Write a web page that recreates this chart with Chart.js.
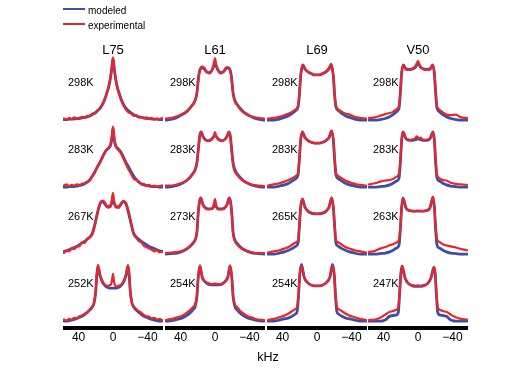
<!DOCTYPE html>
<html>
<head>
<meta charset="utf-8">
<script src="https://cdn.jsdelivr.net/npm/chart.js@4"></script>
<style>
  body { margin: 0; background: #fff; }
  #fig { position: relative; width: 507px; height: 368px; overflow: hidden; font-family: "Liberation Sans", Arial, sans-serif; color: #000; }
  #fig canvas { position: absolute; }
  .txt { position: absolute; white-space: nowrap; transform: translate(-50%, -50%); }
  .lbl { position: absolute; white-space: nowrap; transform: translateY(-50%); font-size: 11px; }
  .key { position: absolute; height: 2px; width: 22px; }
</style>
</head>
<body>
<div id="fig"></div>
<script>
// residues (columns) and temperatures (rows)
const residues = ['L75', 'L61', 'L69', 'V50'];
const temps = [
    ['298K', '283K', '267K', '252K'],
    ['298K', '283K', '273K', '254K'],
    ['298K', '283K', '265K', '254K'],
    ['298K', '283K', '263K', '247K']
];
const axisTicks = [40, 0, -40];

// ---- L75 ----
const khz_L75 = [57,54,51,48,45,42,39,36,33,30,27,24,21,18,15,12,9,7,5,3,1.5,0,-1.5,-3,-5,-7,-9,-12,-15,-18,-21,-24,-27,-30,-33,-36,-39,-42,-45,-48,-51,-54,-57];
const mod_L75_298 = [0.01,0.01,0.02,0.02,0.02,0.03,0.03,0.04,0.05,0.06,0.08,0.10,0.13,0.17,0.22,0.29,0.40,0.50,0.60,0.76,0.93,1.12,0.93,0.76,0.60,0.50,0.40,0.29,0.22,0.17,0.13,0.10,0.08,0.06,0.05,0.04,0.03,0.03,0.02,0.02,0.02,0.01,0.01];
const exp_L75_298 = [0.03,0.01,0.04,0.02,0.05,0.02,0.04,0.06,0.04,0.08,0.07,0.12,0.12,0.18,0.21,0.30,0.41,0.51,0.62,0.78,0.95,1.14,0.92,0.75,0.58,0.48,0.38,0.27,0.19,0.14,0.12,0.08,0.09,0.05,0.06,0.03,0.05,0.02,0.04,0.01,0.03,0.02,0.04];
const mod_L75_283 = [0.00,0.00,0.01,0.01,0.01,0.02,0.03,0.04,0.06,0.09,0.13,0.20,0.28,0.37,0.45,0.55,0.64,0.68,0.71,0.75,0.86,1.08,0.86,0.75,0.71,0.68,0.64,0.55,0.45,0.37,0.28,0.20,0.14,0.09,0.06,0.04,0.03,0.02,0.01,0.01,0.01,0.00,0.00];
const exp_L75_283 = [0.03,0.05,0.02,0.04,0.03,0.05,0.04,0.06,0.07,0.10,0.12,0.20,0.27,0.38,0.46,0.56,0.65,0.69,0.72,0.78,0.90,1.10,0.88,0.76,0.70,0.66,0.62,0.52,0.42,0.32,0.24,0.15,0.13,0.10,0.05,0.06,0.02,0.04,0.01,0.03,0.01,0.02,0.03];
const mod_L75_267 = [0.05,0.06,0.08,0.10,0.12,0.14,0.17,0.20,0.23,0.27,0.31,0.38,0.55,0.75,0.91,0.96,0.90,0.86,0.85,0.87,0.92,0.98,0.92,0.87,0.85,0.86,0.90,0.96,0.91,0.75,0.55,0.38,0.31,0.27,0.23,0.20,0.17,0.14,0.12,0.10,0.08,0.06,0.05];
const exp_L75_267 = [0.02,0.07,0.05,0.11,0.09,0.15,0.14,0.22,0.20,0.28,0.30,0.36,0.52,0.76,0.93,0.97,0.93,0.86,0.88,0.86,0.98,1.11,0.94,0.85,0.87,0.84,0.92,0.96,0.93,0.78,0.57,0.36,0.30,0.24,0.21,0.15,0.13,0.10,0.08,0.05,0.07,0.03,0.05];
const khz_L75_252 = [57,54,51,48,45,42,39,36,33,30,27,24,22,20,19,17.5,15,12,9,6,4,2,1,0,-1,-2,-4,-6,-9,-12,-15,-17.5,-19,-20,-22,-24,-27,-30,-33,-36,-39,-42,-45,-48,-51,-54,-57];
const mod_L75_252 = [0.00,0.00,0.01,0.02,0.03,0.05,0.07,0.09,0.12,0.16,0.20,0.26,0.33,0.55,0.80,1.00,0.82,0.70,0.64,0.61,0.60,0.60,0.60,0.60,0.60,0.60,0.60,0.61,0.64,0.70,0.82,1.00,0.80,0.55,0.33,0.26,0.20,0.16,0.12,0.09,0.07,0.05,0.03,0.02,0.01,0.00,0.00];
const exp_L75_252 = [0.03,0.01,0.04,0.03,0.06,0.05,0.09,0.10,0.13,0.15,0.21,0.26,0.34,0.56,0.80,1.02,0.84,0.72,0.66,0.64,0.65,0.68,0.76,0.86,0.74,0.66,0.63,0.64,0.66,0.72,0.84,1.02,0.80,0.56,0.33,0.27,0.22,0.18,0.15,0.11,0.09,0.08,0.05,0.06,0.03,0.04,0.02];

// ---- L61 ----
const khz_L61_298 = [57,50,44,38,33,29,26,23,21,19,17,15,13,10,7,5,3,1.5,0,-1.5,-3,-5,-7,-10,-13,-15,-17,-19,-21,-23,-26,-29,-33,-38,-44,-50,-57];
const mod_L61_298 = [0.00,0.02,0.05,0.10,0.15,0.22,0.28,0.36,0.50,0.80,0.93,0.95,0.94,0.88,0.86,0.88,0.92,0.98,1.03,0.98,0.92,0.88,0.86,0.88,0.94,0.95,0.93,0.80,0.50,0.36,0.28,0.22,0.15,0.10,0.05,0.02,0.00];
const exp_L61_298 = [0.03,0.04,0.07,0.11,0.16,0.22,0.28,0.36,0.48,0.78,0.94,0.97,0.96,0.88,0.85,0.86,0.93,1.02,1.12,1.00,0.92,0.86,0.85,0.88,0.96,0.96,0.93,0.78,0.48,0.34,0.27,0.20,0.14,0.09,0.06,0.04,0.03];
const khz_L61_283 = [57,50,44,38,33,29,26,23,21,19,17.5,16,14,11,8,5,3,1.5,0,-1.5,-3,-5,-8,-11,-14,-16,-17.5,-19,-21,-23,-26,-29,-33,-38,-44,-50,-57];
const mod_L61_283 = [0.00,0.01,0.03,0.07,0.12,0.18,0.24,0.32,0.45,0.75,0.95,1.00,0.92,0.86,0.84,0.86,0.89,0.92,0.94,0.92,0.89,0.86,0.84,0.86,0.92,1.00,0.95,0.75,0.45,0.32,0.24,0.18,0.12,0.07,0.03,0.01,0.00];
const exp_L61_283 = [0.03,0.03,0.05,0.08,0.12,0.18,0.24,0.31,0.44,0.74,0.96,1.00,0.91,0.85,0.84,0.85,0.88,0.93,1.00,0.92,0.87,0.85,0.84,0.86,0.92,1.00,0.96,0.72,0.40,0.28,0.22,0.16,0.11,0.07,0.04,0.03,0.02];
const khz_L61_273 = [57,50,44,38,33,29,26,23,21,19.5,18,16.5,14,11,8,5,3,1.5,0,-1.5,-3,-5,-8,-11,-14,-16.5,-18,-19.5,-21,-23,-26,-29,-33,-38,-44,-50,-57];
const mod_L61_273 = [0.00,0.01,0.02,0.05,0.09,0.14,0.19,0.26,0.40,0.75,0.95,1.02,0.90,0.84,0.82,0.82,0.83,0.86,0.90,0.86,0.83,0.82,0.82,0.84,0.90,1.02,0.95,0.75,0.40,0.26,0.19,0.14,0.09,0.05,0.02,0.01,0.00];
const exp_L61_273 = [0.02,0.03,0.04,0.06,0.10,0.15,0.20,0.27,0.40,0.74,0.96,1.02,0.89,0.83,0.81,0.82,0.83,0.90,1.00,0.88,0.82,0.81,0.81,0.83,0.90,1.02,0.96,0.74,0.38,0.24,0.17,0.12,0.08,0.05,0.03,0.02,0.02];
const khz_L61_254 = [57,50,44,38,33,29,26,23,21,19.5,17.5,15,12,8,4,0,-4,-8,-12,-15,-17.5,-19.5,-21,-23,-26,-29,-33,-38,-44,-50,-57];
const mod_L61_254 = [0.00,0.01,0.03,0.06,0.10,0.15,0.20,0.27,0.45,0.80,1.00,0.80,0.72,0.67,0.66,0.66,0.66,0.67,0.72,0.80,1.00,0.80,0.45,0.27,0.20,0.15,0.10,0.06,0.03,0.01,0.00];
const exp_L61_254 = [0.02,0.04,0.07,0.10,0.15,0.20,0.25,0.31,0.47,0.80,1.01,0.82,0.73,0.69,0.67,0.68,0.67,0.68,0.73,0.82,1.01,0.80,0.47,0.31,0.25,0.19,0.14,0.09,0.06,0.03,0.02];

// ---- L69 ----
const khz_L69_298 = [57,50,44,38,33,29,25,22,20.5,19,17.5,16.3,14,10,6,3,0,-3,-6,-10,-14,-16.3,-17.5,-19,-20.5,-22,-25,-29,-33,-38,-44,-50,-57];
const mod_L69_298 = [0.00,0.00,0.02,0.05,0.08,0.12,0.17,0.24,0.45,0.80,0.95,1.00,0.93,0.87,0.84,0.82,0.82,0.82,0.84,0.87,0.93,1.00,0.95,0.80,0.45,0.24,0.17,0.12,0.08,0.05,0.02,0.00,0.00];
const exp_L69_298 = [0.03,0.04,0.06,0.09,0.12,0.15,0.19,0.26,0.47,0.80,0.96,1.00,0.93,0.87,0.84,0.82,0.82,0.82,0.84,0.88,0.95,1.02,0.96,0.80,0.47,0.26,0.19,0.15,0.12,0.10,0.06,0.04,0.03];
const khz_L69_283 = [57,50,44,38,33,29,25,22,20.5,19,17,14,10,6,3,0,-3,-6,-10,-14,-17,-19,-20.5,-22,-25,-29,-33,-38,-44,-50,-57];
const mod_L69_283 = [0.00,0.00,0.02,0.04,0.07,0.11,0.15,0.22,0.50,0.85,1.00,0.90,0.84,0.81,0.80,0.80,0.80,0.81,0.84,0.90,1.02,0.85,0.50,0.22,0.15,0.11,0.07,0.04,0.02,0.00,0.00];
const exp_L69_283 = [0.03,0.05,0.07,0.10,0.13,0.16,0.20,0.26,0.52,0.86,1.00,0.90,0.84,0.81,0.80,0.80,0.80,0.81,0.84,0.90,1.02,0.86,0.52,0.26,0.20,0.16,0.12,0.09,0.06,0.04,0.03];
const khz_L69_265 = [57,50,44,38,33,29,25,22,20.5,19,17,14,10,6,3,0,-3,-6,-10,-14,-17,-19,-20.5,-22,-25,-29,-33,-38,-44,-50,-57];
const mod_L69_265 = [0.00,0.00,0.02,0.04,0.07,0.10,0.14,0.20,0.50,0.85,1.00,0.85,0.77,0.74,0.73,0.73,0.73,0.74,0.77,0.85,1.02,0.85,0.50,0.20,0.14,0.10,0.07,0.04,0.02,0.00,0.00];
const exp_L69_265 = [0.03,0.05,0.07,0.10,0.13,0.17,0.21,0.26,0.52,0.86,1.00,0.86,0.78,0.75,0.74,0.73,0.74,0.75,0.78,0.86,1.02,0.86,0.52,0.26,0.21,0.17,0.13,0.10,0.07,0.05,0.03];
const khz_L69_254 = [57,50,44,38,33,29,25,23,21.5,20,18,15,11,6,3,0,-3,-6,-11,-15,-18,-20,-21.5,-23,-25,-29,-33,-38,-44,-50,-57];
const mod_L69_254 = [0.00,0.00,0.02,0.04,0.06,0.09,0.13,0.18,0.45,0.85,1.03,0.80,0.70,0.65,0.64,0.64,0.64,0.65,0.70,0.80,1.03,0.85,0.45,0.18,0.13,0.09,0.06,0.04,0.02,0.00,0.00];
const exp_L69_254 = [0.02,0.04,0.07,0.10,0.14,0.18,0.22,0.27,0.50,0.85,1.00,0.80,0.70,0.65,0.64,0.64,0.64,0.65,0.70,0.80,1.00,0.85,0.50,0.27,0.22,0.18,0.14,0.10,0.07,0.04,0.02];

// ---- V50 ----
const khz_V50_298 = [57,50,44,38,33,29,25,22,20.5,19,17,14,10,6,3,1.5,0,-1.5,-3,-6,-10,-14,-17,-19,-20.5,-22,-25,-29,-33,-38,-44,-50,-57];
const mod_V50_298 = [0.00,0.00,0.01,0.03,0.06,0.10,0.15,0.22,0.50,0.85,1.00,0.93,0.92,0.93,0.96,1.00,1.03,1.00,0.96,0.93,0.92,0.93,1.00,0.85,0.50,0.22,0.15,0.10,0.06,0.03,0.01,0.00,0.00];
const exp_V50_298 = [0.04,0.05,0.08,0.11,0.13,0.15,0.20,0.26,0.52,0.86,1.00,0.92,0.91,0.94,0.98,1.03,1.07,1.02,0.97,0.93,0.91,0.92,1.00,0.86,0.52,0.26,0.19,0.14,0.10,0.09,0.10,0.05,0.04];
const khz_V50_283 = [57,50,44,38,33,29,25,22,20.5,19,17.5,14,10,6,3,1.5,0,-1.5,-3,-6,-10,-14,-17.5,-19,-20.5,-22,-25,-29,-33,-38,-44,-50,-57];
const mod_V50_283 = [0.00,0.00,0.01,0.02,0.04,0.07,0.11,0.17,0.45,0.85,1.00,0.88,0.85,0.85,0.86,0.87,0.88,0.87,0.86,0.85,0.85,0.88,1.00,0.85,0.45,0.17,0.11,0.07,0.04,0.02,0.01,0.00,0.00];
const exp_V50_283 = [0.05,0.07,0.10,0.12,0.13,0.15,0.19,0.25,0.50,0.86,1.00,0.88,0.86,0.87,0.89,0.92,0.90,0.88,0.90,0.86,0.86,0.88,1.00,0.86,0.50,0.24,0.16,0.13,0.12,0.08,0.06,0.05,0.04];
const khz_V50_263 = [57,50,44,38,33,29,25,22,20.5,19,17.5,14,10,6,3,1.5,0,-1.5,-3,-6,-10,-14,-17.5,-19,-20.5,-22,-25,-29,-33,-38,-44,-50,-57];
const mod_V50_263 = [0.00,0.00,0.01,0.02,0.04,0.07,0.11,0.17,0.45,0.85,1.02,0.84,0.79,0.78,0.78,0.78,0.78,0.78,0.78,0.78,0.79,0.84,1.04,0.85,0.45,0.17,0.11,0.07,0.04,0.02,0.01,0.00,0.00];
const exp_V50_263 = [0.04,0.06,0.10,0.13,0.16,0.18,0.21,0.27,0.50,0.86,1.02,0.84,0.79,0.78,0.78,0.79,0.78,0.79,0.78,0.78,0.79,0.85,1.04,0.86,0.50,0.28,0.22,0.18,0.16,0.14,0.12,0.09,0.07];
const khz_V50_247 = [57,50,44,40,37,34,30,26,23,21.5,20,18.6,15,11,6,3,0,-3,-6,-11,-15,-18.6,-20,-21.5,-23,-26,-30,-34,-37,-40,-44,-50,-57];
const mod_V50_247 = [0.00,0.00,0.00,0.01,0.03,0.08,0.10,0.11,0.15,0.45,0.85,1.00,0.78,0.68,0.64,0.63,0.63,0.63,0.64,0.68,0.78,0.98,0.85,0.45,0.15,0.11,0.10,0.08,0.03,0.01,0.00,0.00,0.00];
const exp_V50_247 = [0.02,0.03,0.06,0.10,0.13,0.16,0.18,0.20,0.25,0.50,0.86,1.00,0.78,0.68,0.65,0.64,0.65,0.64,0.65,0.68,0.78,0.98,0.86,0.50,0.25,0.20,0.18,0.16,0.13,0.10,0.07,0.04,0.03];

// panels in grid order [column][row]
const spectra = [
    [[khz_L75, mod_L75_298, exp_L75_298], [khz_L75, mod_L75_283, exp_L75_283], [khz_L75, mod_L75_267, exp_L75_267], [khz_L75_252, mod_L75_252, exp_L75_252]],
    [[khz_L61_298, mod_L61_298, exp_L61_298], [khz_L61_283, mod_L61_283, exp_L61_283], [khz_L61_273, mod_L61_273, exp_L61_273], [khz_L61_254, mod_L61_254, exp_L61_254]],
    [[khz_L69_298, mod_L69_298, exp_L69_298], [khz_L69_283, mod_L69_283, exp_L69_283], [khz_L69_265, mod_L69_265, exp_L69_265], [khz_L69_254, mod_L69_254, exp_L69_254]],
    [[khz_V50_298, mod_V50_298, exp_V50_298], [khz_V50_283, mod_V50_283, exp_V50_283], [khz_V50_263, mod_V50_263, exp_V50_263], [khz_V50_247, mod_V50_247, exp_V50_247]]
];

const BLUE = '#3d4ea6';
const RED = '#e8262b';
const colCenter = [113, 215, 317, 418];
const rowBase = [120, 187, 254, 321];
const PANEL_W = 100, PANEL_H = 70;
const X_HALF = 58.1;
const Y_MIN = -0.07, Y_MAX = 1.2;

const fig = document.getElementById('fig');

function addCanvas(left, top, w, h) {
    const c = document.createElement('canvas');
    c.width = w;
    c.height = h;
    c.style.left = left + 'px';
    c.style.top = top + 'px';
    fig.appendChild(c);
    return c;
}

function addText(cls, text, left, top, size) {
    const d = document.createElement('div');
    d.className = cls;
    d.textContent = text;
    d.style.left = left + 'px';
    d.style.top = top + 'px';
    if (size) d.style.fontSize = size + 'px';
    fig.appendChild(d);
}

function toPoints(xs, ys) {
    return xs.map((x, i) => ({ x: x, y: ys[i] }));
}

const xScale = { type: 'linear', min: -X_HALF, max: X_HALF, reverse: true, display: false };

function drawPanel(col, row) {
    const [xs, mod, exp] = spectra[col][row];
    const top = rowBase[row] + 4 - PANEL_H;
    const canvas = addCanvas(colCenter[col] - PANEL_W / 2, top, PANEL_W, PANEL_H);
    new Chart(canvas, {
        type: 'line',
        data: {
            datasets: [{
                label: 'experimental',
                data: toPoints(xs, exp),
                borderColor: RED,
                borderWidth: 2.2,
                order: 0
            }, {
                label: 'modeled',
                data: toPoints(xs, mod),
                borderColor: BLUE,
                borderWidth: 2.8,
                order: 1
            }]
        },
        options: {
            responsive: false,
            animation: false,
            events: [],
            layout: { padding: 0 },
            elements: {
                point: { radius: 0 },
                line: { cubicInterpolationMode: 'monotone', borderCapStyle: 'round', borderJoinStyle: 'round' }
            },
            plugins: { legend: { display: false }, tooltip: { enabled: false } },
            scales: {
                x: xScale,
                y: { min: Y_MIN, max: Y_MAX, display: false }
            }
        }
    });
    addText('lbl', temps[col][row], colCenter[col] - 45, rowBase[row] - 38);
}

function drawAxis(col) {
    const canvas = addCanvas(colCenter[col] - PANEL_W / 2, 310, PANEL_W, 35);
    new Chart(canvas, {
        type: 'line',
        data: { datasets: [] },
        options: {
            responsive: false,
            animation: false,
            events: [],
            layout: { padding: 0 },
            plugins: { legend: { display: false }, tooltip: { enabled: false } },
            scales: {
                x: {
                    type: 'linear',
                    min: -X_HALF,
                    max: X_HALF,
                    reverse: true,
                    border: { display: true, width: 4, color: '#000' },
                    grid: { display: false, drawTicks: false },
                    afterBuildTicks: scale => {
                        scale.ticks = axisTicks.map(v => ({ value: v }));
                    },
                    ticks: {
                        color: '#000',
                        padding: 3,
                        maxRotation: 0,
                        font: { family: '"Liberation Sans", Arial, sans-serif', size: 12 },
                        callback: v => v < 0 ? '\u2212' + Math.abs(v) : String(v)
                    }
                },
                y: { display: false }
            }
        }
    });
}

for (let c = 0; c < 4; c++) {
    for (let r = 0; r < 4; r++) drawPanel(c, r);
    drawAxis(c);
    addText('txt', residues[c], colCenter[c], 49, 13);
}

addText('txt', 'kHz', 268, 357, 12.5);

// legend
const keys = [['modeled', BLUE, 9], ['experimental', RED, 24]];
keys.forEach(([name, color, y]) => {
    const k = document.createElement('div');
    k.className = 'key';
    k.style.background = color;
    k.style.left = '63px';
    k.style.top = (y - 1) + 'px';
    fig.appendChild(k);
    addText('lbl', name, 88, y + 0.5, 10);
});
</script>
</body>
</html>
